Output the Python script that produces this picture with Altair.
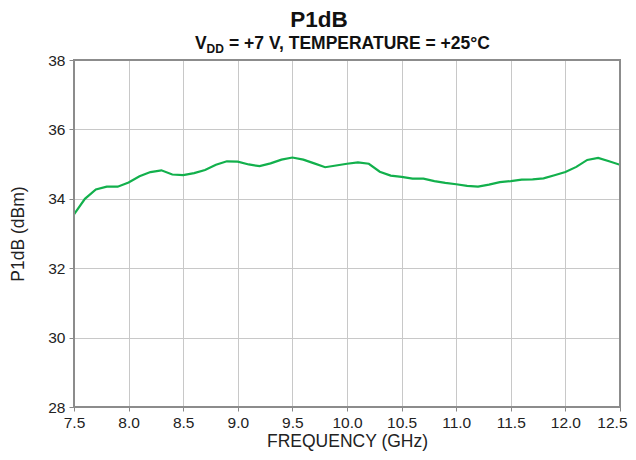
import altair as alt
import pandas as pd

freq = [7.5, 7.6, 7.7, 7.8, 7.9, 8.0, 8.1, 8.2, 8.3, 8.4, 8.5, 8.6, 8.7, 8.8, 8.9,
        9.0, 9.1, 9.2, 9.3, 9.4, 9.5, 9.6, 9.7, 9.8, 9.9, 10.0, 10.1, 10.2, 10.3,
        10.4, 10.5, 10.6, 10.7, 10.8, 10.9, 11.0, 11.1, 11.2, 11.3, 11.4, 11.5,
        11.6, 11.7, 11.8, 11.9, 12.0, 12.1, 12.2, 12.3, 12.4, 12.5]
p1db = [33.55, 34.00, 34.27, 34.35, 34.35, 34.47, 34.65, 34.77, 34.82, 34.70, 34.68,
        34.74, 34.83, 34.98, 35.08, 35.07, 34.99, 34.94, 35.02, 35.13, 35.19, 35.13,
        35.02, 34.91, 34.96, 35.01, 35.05, 35.01, 34.78, 34.67, 34.63, 34.58, 34.58,
        34.51, 34.46, 34.42, 34.37, 34.35, 34.41, 34.48, 34.51, 34.55, 34.56, 34.59,
        34.68, 34.77, 34.92, 35.12, 35.18, 35.08, 34.98]
x_ticks = [7.5, 8.0, 8.5, 9.0, 9.5, 10.0, 10.5, 11.0, 11.5, 12.0, 12.5]
y_ticks = [28, 30, 32, 34, 36, 38]

df = pd.DataFrame({"f": freq, "p": p1db})
one = pd.DataFrame({"a": [0]})

FONT = "Liberation Sans"
W, H = 546, 347

line = alt.Chart(df).mark_line(color="#12b04c", strokeWidth=2.2, clip=True).encode(
    x=alt.X("f:Q", scale=alt.Scale(domain=[7.5, 12.5], nice=False),
            axis=alt.Axis(values=x_ticks, format=".1f", title="FREQUENCY (GHz)",
                          grid=True, gridColor="#c8c8c8", gridWidth=1,
                          domain=False, tickColor="#888888", tickSize=4,
                          labelFlush=False, labelOverlap=False,
                          labelAlign={"condition": {"test": "datum.value >= 12.5", "value": "right"},
                                      "value": "center"},
                          labelOffset={"condition": {"test": "datum.value >= 12.5", "value": 7},
                                       "value": 0},
                          labelFont=FONT, labelFontSize=15.5, labelColor="#222222",
                          labelPadding=4, titleFont=FONT, titleFontSize=17.5,
                          titleFontWeight="normal", titleColor="#222222",
                          titlePadding=2)),
    y=alt.Y("p:Q", scale=alt.Scale(domain=[28, 38], nice=False),
            axis=alt.Axis(values=y_ticks, format="d", title="P1dB (dBm)",
                          grid=True, gridColor="#c8c8c8", gridWidth=1,
                          domain=False, tickColor="#888888", tickSize=5,
                          labelFlush=False, labelOverlap=False,
                          labelFont=FONT, labelFontSize=15.5, labelColor="#222222",
                          labelPadding=4, titleFont=FONT, titleFontSize=17.5,
                          titleFontWeight="normal", titleColor="#222222",
                          titlePadding=20)),
)

border = alt.Chart(one).mark_rect(fill=None, stroke="#8c8c8c", strokeWidth=2).encode(
    x=alt.value(0), x2=alt.value(W), y=alt.value(0), y2=alt.value(H)
)

title = alt.Chart(one).mark_text(font=FONT, fontSize=22.5, fontWeight="bold",
                                 color="#111111", align="center", baseline="alphabetic").encode(
    x=alt.value(245), y=alt.value(-33), text=alt.value("P1dB"))

sub_v = alt.Chart(one).mark_text(font=FONT, fontSize=17.5, fontWeight="bold",
                                 color="#111111", align="left", baseline="alphabetic").encode(
    x=alt.value(121), y=alt.value(-11), text=alt.value("V"))
sub_dd = alt.Chart(one).mark_text(font=FONT, fontSize=12, fontWeight="bold",
                                  color="#111111", align="left", baseline="alphabetic").encode(
    x=alt.value(132.5), y=alt.value(-7), text=alt.value("DD"))
sub_rest = alt.Chart(one).mark_text(font=FONT, fontSize=17.5, fontWeight="bold",
                                    color="#111111", align="left", baseline="alphabetic").encode(
    x=alt.value(155), y=alt.value(-11), text=alt.value("= +7 V, TEMPERATURE = +25°C"))

chart = alt.layer(line, border, title, sub_v, sub_dd, sub_rest).properties(
    width=W, height=H,
    autosize=alt.AutoSizeParams(type="none"),
    padding={"left": 66, "top": 52, "right": 8, "bottom": 45},
).configure_view(stroke=None).configure(background="white")

chart.save("out.html", embed_options={"renderer": "svg", "actions": False})
